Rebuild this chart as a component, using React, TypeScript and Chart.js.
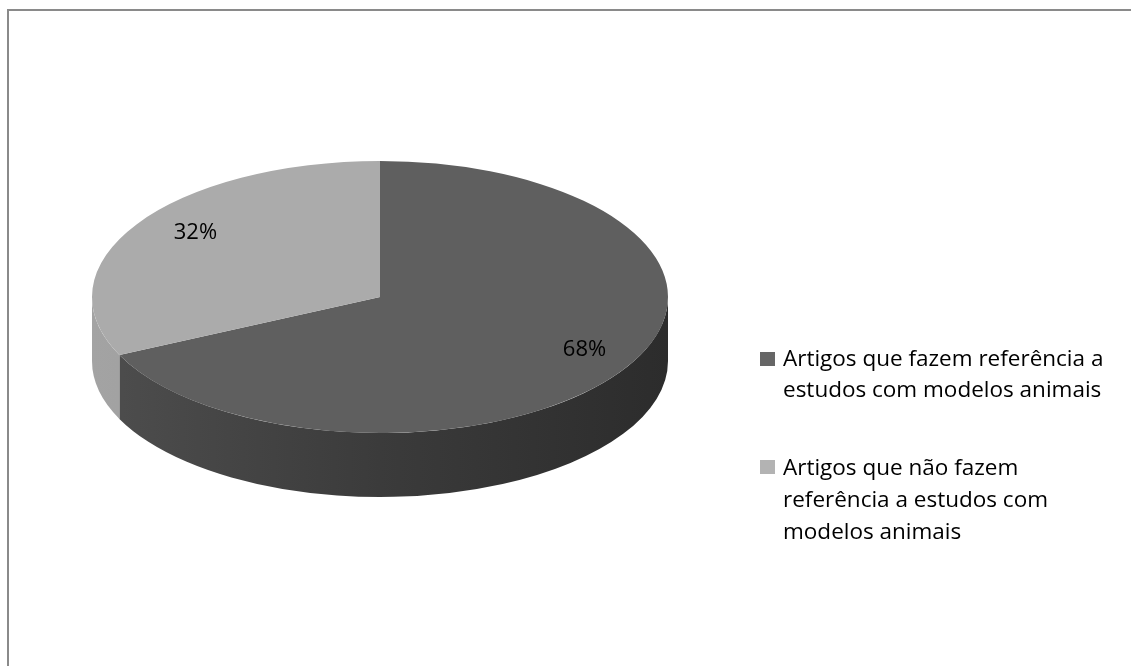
import React, { useEffect, useRef } from 'react';
import { Chart, registerables } from 'chart.js';
Chart.register(...registerables);

const categories = [
  'Artigos que fazem referência a estudos com modelos animais',
  'Artigos que não fazem referência a estudos com modelos animais',
];
const legendLines = [
  ['Artigos que fazem referência a', 'estudos com modelos animais'],
  ['Artigos que não fazem', 'referência a estudos com', 'modelos animais'],
];
const values = [68, 32];

const topColors = ['#5f5f5f', '#ababab'];
const sideStops = [
  ['#4e4e4e', '#3b3b3b', '#2c2c2c'],
  ['#a3a3a3', '#989898', '#8c8c8c'],
];
const legendColors = ['#666666', '#b3b3b3'];

const SQUASH = 136 / 288;
const DEPTH = 64;
const LABEL_F = 0.8;
const LABEL_DX = 10;
const LABEL_DY = -6;
const FONT = '"Open Sans", "Noto Sans", sans-serif';

const pie3d = {
  id: 'pie3d',
  beforeDatasetsDraw(chart: any) {
    const meta = chart.getDatasetMeta(0);
    const ctx: CanvasRenderingContext2D = chart.ctx;
    const first = meta.data[0];
    const cx = first.x, cy = first.y, r = first.outerRadius, ry = r * SQUASH;
    ctx.save();
    meta.data.forEach((arc: any, i: number) => {
      const s = arc.startAngle, e = arc.endAngle;
      for (const off of [-2 * Math.PI, 0, 2 * Math.PI]) {
        const a = Math.max(s, off), b = Math.min(e, off + Math.PI);
        if (b <= a) continue;
        const g = ctx.createLinearGradient(cx - r, 0, cx + r, 0);
        g.addColorStop(0, sideStops[i][0]);
        g.addColorStop(0.5, sideStops[i][1]);
        g.addColorStop(1, sideStops[i][2]);
        ctx.beginPath();
        ctx.ellipse(cx, cy, r, ry, 0, a, b, false);
        ctx.ellipse(cx, cy + DEPTH, r, ry, 0, b, a, true);
        ctx.closePath();
        ctx.fillStyle = g;
        ctx.fill();
      }
    });
    ctx.restore();
    ctx.save();
    ctx.translate(cx, cy);
    ctx.scale(1, SQUASH);
    ctx.translate(-cx, -cy);
  },
  afterDatasetsDraw(chart: any) {
    const ctx: CanvasRenderingContext2D = chart.ctx;
    ctx.restore();
    const meta = chart.getDatasetMeta(0);
    const total = values.reduce((p, v) => p + v, 0);
    ctx.save();
    ctx.font = `22px ${FONT}`;
    ctx.fillStyle = '#000';
    ctx.textAlign = 'center';
    ctx.textBaseline = 'middle';
    meta.data.forEach((arc: any, i: number) => {
      const mid = (arc.startAngle + arc.endAngle) / 2;
      const r = arc.outerRadius;
      const x = arc.x + Math.cos(mid) * r * LABEL_F + LABEL_DX;
      const y = arc.y + Math.sin(mid) * r * SQUASH * LABEL_F + LABEL_DY;
      ctx.fillText(`${Math.round((values[i] / total) * 100)}%`, x, y);
    });
    ctx.restore();
  },
};

export default function App() {
  const ref = useRef<HTMLCanvasElement>(null);
  useEffect(() => {
    if (!ref.current) return;
    const chart = new Chart(ref.current, {
      type: 'pie',
      data: {
        labels: categories,
        datasets: [
          {
            data: values,
            backgroundColor: topColors,
            borderWidth: 0,
          },
        ],
      },
      options: {
        animation: false,
        responsive: false,
        events: [],
        layout: { padding: { left: 92, right: 463, top: 9, bottom: 81 } },
        plugins: { legend: { display: false }, tooltip: { enabled: false } },
      },
      plugins: [pie3d],
    });
    return () => chart.destroy();
  }, []);

  const items = [
    { sqTop: 352, textTop: 342, lh: 31 },
    { sqTop: 460, textTop: 451, lh: 32 },
  ];

  return (
    <div style={{ position: 'fixed', left: 0, top: 0, width: 1131, height: 666, overflow: 'hidden', background: '#fff', fontFamily: FONT }}>
      <div style={{ position: 'absolute', left: 7, top: 9, width: 1200, height: 800, border: '2px solid #8a8a8a', boxSizing: 'border-box' }} />
      <canvas ref={ref} width={1131} height={666} style={{ position: 'absolute', left: 0, top: 0, display: 'block' }} />
      {items.map((it, i) => (
        <React.Fragment key={i}>
          <div style={{ position: 'absolute', left: 760, top: it.sqTop, width: 15, height: 14, background: legendColors[i] }} />
          <div style={{ position: 'absolute', left: 783, top: it.textTop, fontSize: 22.5, lineHeight: `${it.lh}px`, color: '#000', whiteSpace: 'nowrap' }}>
            {legendLines[i].map((l, j) => (
              <div key={j}>{l}</div>
            ))}
          </div>
        </React.Fragment>
      ))}
    </div>
  );
}
